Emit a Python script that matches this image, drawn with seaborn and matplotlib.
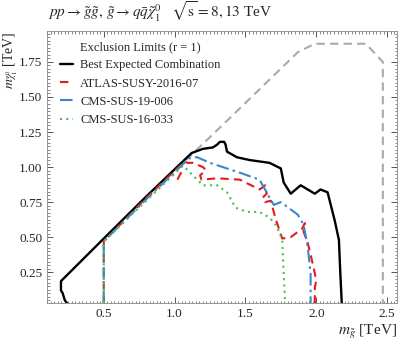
import matplotlib
matplotlib.use("Agg")
import matplotlib.pyplot as plt
import seaborn as sns
import pandas as pd
from matplotlib.ticker import MultipleLocator

# Curvas de exclusión (m_gluino, m_neutralino) en TeV
black_x = [0.24, 0.225, 0.21, 0.198, 0.198, 0.5, 0.8, 1.12, 1.20, 1.27, 1.30, 1.32,
           1.35, 1.36, 1.37, 1.44, 1.53, 1.67, 1.75, 1.77, 1.82, 1.89, 1.99, 2.03,
           2.08, 2.13, 2.16, 2.17, 2.18]
black_y = [0.03, 0.05, 0.10, 0.12, 0.186, 0.49, 0.79, 1.10, 1.13, 1.14, 1.16, 1.18,
           1.18, 1.16, 1.11, 1.07, 1.05, 1.03, 0.99, 0.89, 0.81, 0.87, 0.81, 0.84,
           0.82, 0.62, 0.48, 0.24, 0.03]

gray_x = [1.08, 1.38, 1.87, 1.99, 2.35, 2.47, 2.47]
gray_y = [1.05, 1.34, 1.82, 1.88, 1.88, 1.75, 0.03]

atlas_x = [0.5, 0.5, 0.8, 1.07, 1.09, 1.13, 1.20, 1.22, 1.18, 1.19, 1.30, 1.46, 1.60,
           1.64, 1.65, 1.62, 1.64, 1.68, 1.71, 1.76, 1.82, 1.90, 1.92, 1.91, 1.94,
           1.98, 2.00, 1.99, 1.99]
atlas_y = [0.03, 0.47, 0.78, 1.04, 1.03, 1.03, 1.00, 0.98, 0.94, 0.91, 0.92, 0.91, 0.84,
           0.87, 0.81, 0.78, 0.75, 0.76, 0.64, 0.49, 0.50, 0.56, 0.60, 0.54, 0.46,
           0.29, 0.19, 0.14, 0.03]
atlas_hook_x = [1.02, 1.04, 1.07]
atlas_hook_y = [0.91, 0.95, 0.99]

cms19_x = [0.5, 0.5, 0.8, 1.10, 1.13, 1.16, 1.25, 1.46, 1.60, 1.66, 1.70, 1.75, 1.87,
           1.91, 1.94, 1.96, 1.96]
cms19_y = [0.03, 0.47, 0.77, 1.06, 1.07, 1.07, 1.03, 0.96, 0.91, 0.80, 0.73, 0.75, 0.66,
           0.59, 0.43, 0.24, 0.03]

cms16_x = [0.5, 0.5, 0.8, 1.06, 1.13, 1.20, 1.30, 1.37, 1.43, 1.51, 1.60, 1.67, 1.72,
           1.76, 1.77, 1.78]
cms16_y = [0.03, 0.47, 0.76, 1.01, 0.94, 0.87, 0.87, 0.82, 0.71, 0.68, 0.68, 0.64, 0.58,
           0.48, 0.24, 0.03]

x_ticks = [0.5, 1.0, 1.5, 2.0, 2.5]
y_ticks = [0.25, 0.50, 0.75, 1.00, 1.25, 1.50, 1.75]

sns.set_theme(style="ticks")
plt.rcParams["font.family"] = ["Liberation Serif", "DejaVu Serif"]
plt.rcParams["mathtext.fontset"] = "stix"

fig = plt.figure(figsize=(3.99, 3.42), dpi=100)
ax = fig.add_axes([0.118, 0.114, 0.877, 0.795])


def curva(x, y, **kw):
    df = pd.DataFrame({"x": x, "y": y})
    sns.lineplot(data=df, x="x", y="y", sort=False, estimator=None, ax=ax, **kw)


curva(gray_x, gray_y, color="#aaaaaa", linestyle=(0, (4, 2.5)), linewidth=1.5)
curva(black_x, black_y, color="black", linewidth=1.7, label="Best Expected Combination")
curva(atlas_x, atlas_y, color="#e41a1c", linestyle=(0, (4, 2.5)), linewidth=1.5,
      label="ATLAS-SUSY-2016-07")
curva(atlas_hook_x, atlas_hook_y, color="#e41a1c", linestyle=(0, (4, 2.5)), linewidth=1.5)
curva(cms19_x, cms19_y, color="#3a86c8", linestyle=(0, (6, 2, 1.2, 2)), linewidth=1.5,
      label="CMS-SUS-19-006")
curva(cms16_x, cms16_y, color="#4dbf4a", linestyle=(0, (1, 2)), linewidth=1.5,
      label="CMS-SUS-16-033")

ax.set_xlim(0.1, 2.57)
ax.set_ylim(0.03, 1.97)
ax.set_xticks(x_ticks)
ax.set_yticks(y_ticks)
ax.set_yticklabels([f"{v:.2f}" for v in y_ticks])
ax.xaxis.set_minor_locator(MultipleLocator(0.025))
ax.yaxis.set_minor_locator(MultipleLocator(0.025))
ax.tick_params(which="both", direction="in", top=True, right=True, labelsize=9.5,
               color="#555555")
ax.tick_params(which="major", length=4, width=0.7)
ax.tick_params(which="minor", length=1.8, width=0.5)
for s in ax.spines.values():
    s.set_color("#888888")
    s.set_linewidth(0.6)

ax.set_xlabel(r"$m_{\tilde{g}}$ [TeV]", loc="right", fontsize=11, labelpad=2)
ax.set_ylabel(r"$m_{\tilde{\chi}_1^0}$ [TeV]", loc="top", fontsize=10)
ax.yaxis.set_label_coords(-0.077, 1.0)

leg = ax.legend(title="Exclusion Limits (r = 1)", loc="upper left", frameon=False,
                fontsize=9, title_fontsize=9, handlelength=1.0, handletextpad=0.6,
                labelspacing=0.5, borderaxespad=0.5, bbox_to_anchor=(0.005, 1.005))

fig.text(0.12, 0.965,
         r"$pp \rightarrow \tilde{g}\tilde{g},\, \tilde{g} \rightarrow q\bar{q}\tilde{\chi}_1^0$"
         r"$\quad\sqrt{\mathrm{s}} = 8, 13$ TeV",
         fontsize=11, ha="left", va="center")

fig.savefig("out.png", dpi=100)
